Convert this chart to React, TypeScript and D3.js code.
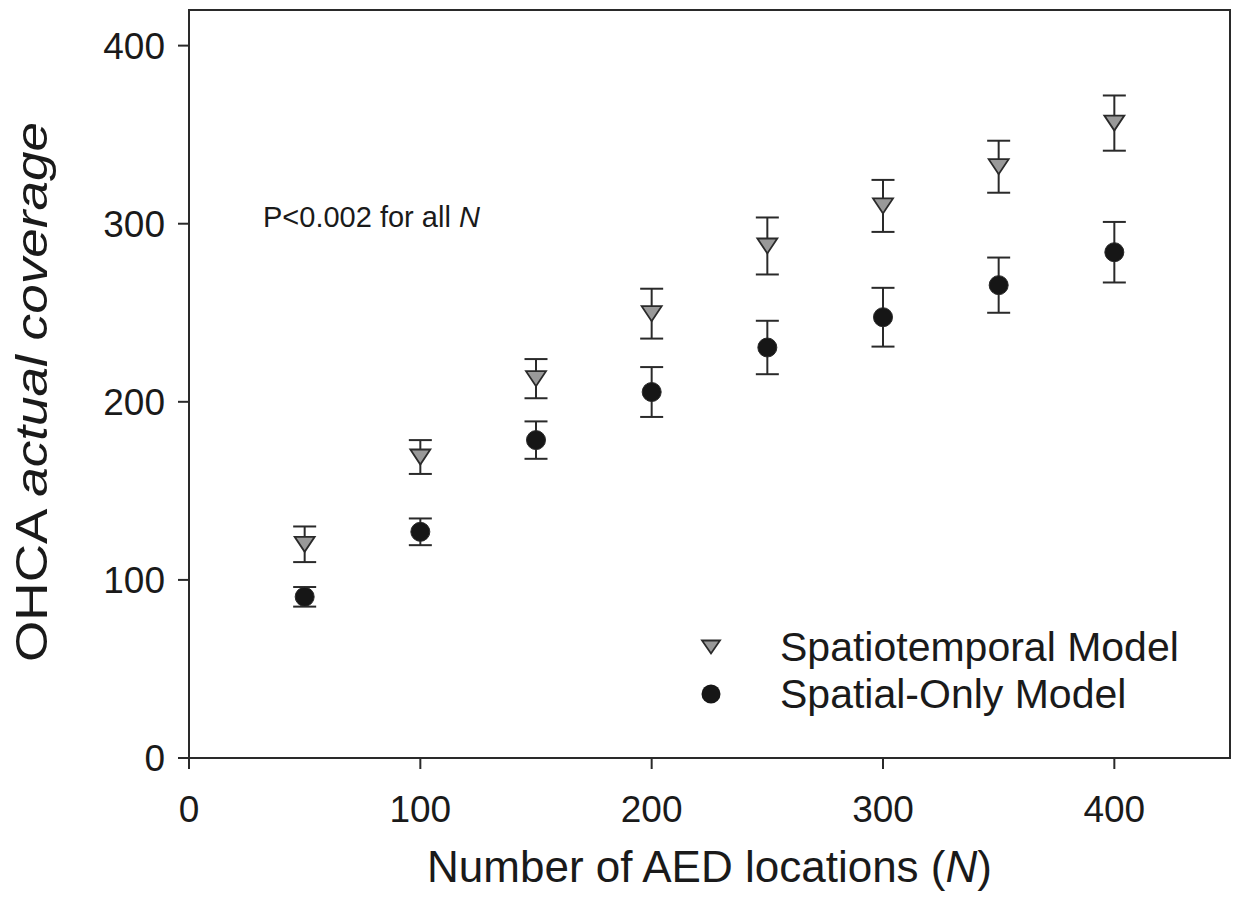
import React from "react";
import * as d3 from "d3";

const nValues = [50, 100, 150, 200, 250, 300, 350, 400];
const spatiotemporalMean = [120, 169, 213, 249.5, 287.5, 310, 332, 356.5];
const spatiotemporalErr = [10, 9.5, 11, 14, 16, 14.6, 14.6, 15.5];
const spatialMean = [90.5, 127, 178.5, 205.5, 230.5, 247.5, 265.5, 284];
const spatialErr = [5.5, 7.5, 10.5, 14, 15, 16.5, 15.5, 17];
const xTicks = [0, 100, 200, 300, 400];
const yTicks = [0, 100, 200, 300, 400];
const legendLabels = ["Spatiotemporal Model", "Spatial-Only Model"];

const W = 1233;
const H = 912;
const left = 189;
const right = 1230;
const top = 10;
const bottom = 758;
const FONT = "Liberation Sans, Arial, sans-serif";
const AX = "#2a2a2a";

export default function App() {
  const x = d3.scaleLinear().domain([0, 450]).range([left, right]);
  const y = d3.scaleLinear().domain([0, 420]).range([bottom, top]);
  const cap = 11.5;
  const triW = 20;
  const triH = 15;
  const triPath = (cx: number, cy: number, w: number, h: number) =>
    `M${cx - w / 2},${cy - h / 2}L${cx + w / 2},${cy - h / 2}L${cx},${cy + h / 2}Z`;

  const errBar = (cx: number, m: number, e: number, key: string) => (
    <g key={key} stroke={AX} strokeWidth={2} fill="none">
      <line x1={cx} x2={cx} y1={y(m + e)} y2={y(m - e)} />
      <line x1={cx - cap} x2={cx + cap} y1={y(m + e)} y2={y(m + e)} />
      <line x1={cx - cap} x2={cx + cap} y1={y(m - e)} y2={y(m - e)} />
    </g>
  );

  return (
    <svg
      width={W}
      height={H}
      style={{ position: "absolute", left: 0, top: 0, background: "#fff" }}
      fontFamily={FONT}
    >
      <rect x={0} y={0} width={W} height={H} fill="#fff" />
      {/* frame */}
      <rect x={left} y={top} width={right - left} height={bottom - top} fill="none" stroke={AX} strokeWidth={2} />
      {/* y ticks */}
      {yTicks.map((t) => (
        <g key={"yt" + t}>
          <line x1={left - 11} x2={left} y1={y(t)} y2={y(t)} stroke={AX} strokeWidth={2} />
          <text x={165} y={y(t)} dy="0.36em" textAnchor="end" fontSize={37} fill="#1a1a1a">
            {t}
          </text>
        </g>
      ))}
      {/* x ticks */}
      {xTicks.map((t) => (
        <g key={"xt" + t}>
          <line x1={x(t)} x2={x(t)} y1={bottom} y2={bottom + 11} stroke={AX} strokeWidth={2} />
          <text x={x(t)} y={822} textAnchor="middle" fontSize={37} fill="#1a1a1a">
            {t}
          </text>
        </g>
      ))}
      {/* axis titles */}
      <text x={(left + right) / 2} y={882} textAnchor="middle" fontSize={44} fill="#1a1a1a">
        Number of AED locations (<tspan fontStyle="italic">N</tspan>)
      </text>
      <text
        transform={`translate(47,392) rotate(-90)`}
        textAnchor="middle"
        fontSize={44}
        fill="#1a1a1a"
        textLength={540}
        lengthAdjust="spacingAndGlyphs"
      >
        OHCA <tspan fontStyle="italic">actual coverage</tspan>
      </text>
      {/* annotation */}
      <text x={263} y={227} fontSize={29} fill="#1a1a1a">
        P&lt;0.002 for all <tspan fontStyle="italic">N</tspan>
      </text>
      {/* error bars */}
      {nValues.map((n, i) => errBar(x(n), spatiotemporalMean[i], spatiotemporalErr[i], "ste" + i))}
      {nValues.map((n, i) => errBar(x(n), spatialMean[i], spatialErr[i], "spe" + i))}
      {/* markers */}
      {nValues.map((n, i) => (
        <path
          key={"st" + i}
          d={triPath(x(n), y(spatiotemporalMean[i]), triW, triH)}
          fill="#999999"
          stroke={AX}
          strokeWidth={1.8}
        />
      ))}
      {nValues.map((n, i) => (
        <circle key={"sp" + i} cx={x(n)} cy={y(spatialMean[i])} r={9.5} fill="#161616" stroke={AX} strokeWidth={1} />
      ))}
      {/* legend */}
      <path d={triPath(711, 647, 18, 13)} fill="#999999" stroke={AX} strokeWidth={1.8} />
      <circle cx={711} cy={694} r={9.5} fill="#161616" />
      <text x={780} y={661} fontSize={41} fill="#1a1a1a">
        {legendLabels[0]}
      </text>
      <text x={780} y={708} fontSize={41} fill="#1a1a1a">
        {legendLabels[1]}
      </text>
    </svg>
  );
}
